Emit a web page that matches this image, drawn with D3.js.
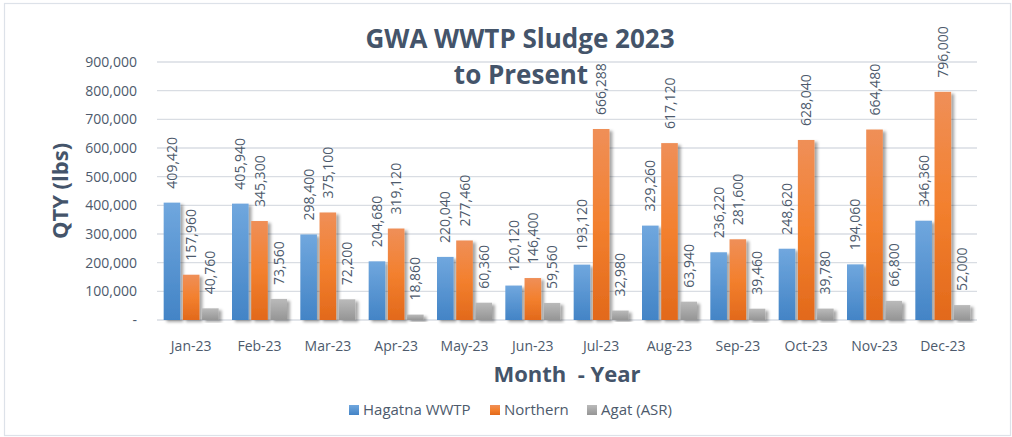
<!DOCTYPE html>
<html>
<head>
<meta charset="utf-8">
<script src="https://cdn.jsdelivr.net/npm/d3@7"></script>
<style>
  html, body { margin: 0; padding: 0; background: #fff; }
  svg { display: block; font-family: "Open Sans", "Noto Sans", sans-serif; }
</style>
</head>
<body>
<svg id="chart" width="1012" height="437"></svg>
<script>
(function () {
  "use strict";

  // data
  const months = ["Jan-23", "Feb-23", "Mar-23", "Apr-23", "May-23", "Jun-23",
    "Jul-23", "Aug-23", "Sep-23", "Oct-23", "Nov-23", "Dec-23"];
  const hagatna = [409420, 405940, 298400, 204680, 220040, 120120, 193120, 329260, 236220, 248620, 194060, 346360];
  const northern = [157960, 345300, 375100, 319120, 277460, 146400, 666288, 617120, 281600, 628040, 664480, 796000];
  const agat = [40760, 73560, 72200, 18860, 60360, 59560, 32980, 63940, 39460, 39780, 66800, 52000];
  const seriesNames = ["Hagatna WWTP", "Northern", "Agat (ASR)"];
  const yTicks = [0, 100000, 200000, 300000, 400000, 500000, 600000, 700000, 800000, 900000];

  const TXT = "#44546A", TICK = "#4d5a6c", GRID = "#d9dde3";
  const grads = [
    { id: "gBlue", top: "#70a7de", bot: "#4384c6" },
    { id: "gOrange", top: "#ef8f58", mid: "#f3802e", bot: "#e2691b" },
    { id: "gGray", top: "#bababa", bot: "#959595" },
  ];

  const W = 1012, H = 437;
  const m = { l: 157, r: 977, t: 62, b: 320 };
  const svg = d3.select("#chart");

  // defs: gradients + shadow
  const defs = svg.append("defs");
  grads.forEach((g) => {
    const lg = defs.append("linearGradient").attr("id", g.id).attr("x1", 0).attr("y1", 0).attr("x2", 0).attr("y2", 1);
    lg.append("stop").attr("offset", "0%").attr("stop-color", g.top);
    if (g.mid) lg.append("stop").attr("offset", "50%").attr("stop-color", g.mid);
    lg.append("stop").attr("offset", "100%").attr("stop-color", g.bot);
  });
  defs.append("filter").attr("id", "shadow").attr("x", "-30%").attr("y", "-10%").attr("width", "180%").attr("height", "130%")
    .append("feDropShadow").attr("dx", 3).attr("dy", 2).attr("stdDeviation", 1.8)
    .attr("flood-color", "#000").attr("flood-opacity", 0.35);

  // outer frame
  svg.append("rect").attr("x", 0).attr("y", 0).attr("width", W).attr("height", H).attr("fill", "#fff");
  svg.append("rect").attr("x", 4.5).attr("y", 3.5).attr("width", 1006).attr("height", 432)
    .attr("fill", "#fff").attr("stroke", "#dde2e9").attr("stroke-width", 1.2);

  const x = d3.scaleBand().domain(months).range([m.l, m.r]).paddingInner(0).paddingOuter(0);
  const xs = d3.scaleBand().domain(seriesNames).range([-27.5, 27.5]).paddingInner(0.135);
  const y = d3.scaleLinear().domain([0, 900000]).range([m.b, m.t]);

  // grid
  svg.append("g").selectAll("line").data(yTicks).enter().append("line")
    .attr("x1", m.l).attr("x2", m.r)
    .attr("y1", (d) => y(d)).attr("y2", (d) => y(d))
    .attr("stroke", GRID).attr("stroke-width", 1.4);

  // y axis labels
  const yAxis = svg.append("g").attr("transform", `translate(${m.l - 20},0)`)
    .call(d3.axisLeft(y).tickValues(yTicks).tickSize(0)
      .tickFormat((v) => (v === 0 ? "-" : d3.format(",")(v))));
  yAxis.select(".domain").remove();
  yAxis.selectAll("text").attr("fill", TICK).attr("font-size", 14).attr("font-family", "Open Sans")
    .attr("x", 0);

  // x axis labels
  const xAxis = svg.append("g").attr("transform", `translate(0,${m.b})`)
    .call(d3.axisBottom(x).tickSize(0).tickPadding(21));
  xAxis.select(".domain").remove();
  xAxis.selectAll("text").attr("fill", TICK).attr("font-size", 14).attr("font-family", "Open Sans");

  // bars
  const series = [hagatna, northern, agat];
  const fmt = d3.format(",");
  series.forEach((vals, si) => {
    const name = seriesNames[si];
    const g = svg.append("g");
    g.selectAll("rect").data(vals).enter().append("rect")
      .attr("x", (d, i) => x(months[i]) + x.bandwidth() / 2 + xs(name))
      .attr("y", (d) => y(d))
      .attr("width", xs.bandwidth())
      .attr("height", (d) => y(0) - y(d))
      .attr("fill", `url(#${grads[si].id})`)
      .attr("filter", "url(#shadow)");
    g.selectAll("text").data(vals).enter().append("text")
      .attr("transform", (d, i) =>
        `translate(${x(months[i]) + x.bandwidth() / 2 + xs(name) + xs.bandwidth() / 2},${y(d) - 14}) rotate(-90)`)
      .attr("dy", "0.36em")
      .attr("fill", TICK).attr("font-size", 14)
      .text((d) => fmt(d));
  });

  // titles
  const title = svg.append("text").attr("text-anchor", "middle").attr("fill", TXT)
    .attr("font-size", 26).attr("font-weight", 700);
  title.append("tspan").attr("x", 520).attr("y", 48).text("GWA WWTP Sludge 2023");
  title.append("tspan").attr("x", 521).attr("y", 84).text("to Present");

  svg.append("text").attr("transform", `translate(68,${(m.t + m.b) / 2}) rotate(-90)`)
    .attr("text-anchor", "middle").attr("fill", TXT).attr("font-size", 22).attr("font-weight", 700)
    .text("QTY (lbs)");

  svg.append("text").attr("x", (m.l + m.r) / 2).attr("y", 382)
    .attr("text-anchor", "middle").attr("fill", TXT).attr("font-size", 22).attr("font-weight", 700)
    .style("white-space", "pre").text("Month  - Year");

  // legend
  const legX = [349, 490, 587];
  const leg = svg.append("g").selectAll("g").data(seriesNames).enter().append("g")
    .attr("transform", (d, i) => `translate(${legX[i]},405)`);
  leg.append("rect").attr("width", 10).attr("height", 10).attr("fill", (d, i) => `url(#${grads[i].id})`);
  leg.append("text").attr("x", 14).attr("y", 10).attr("fill", TICK).attr("font-size", 15).text((d) => d);
})();
</script>
</body>
</html>
